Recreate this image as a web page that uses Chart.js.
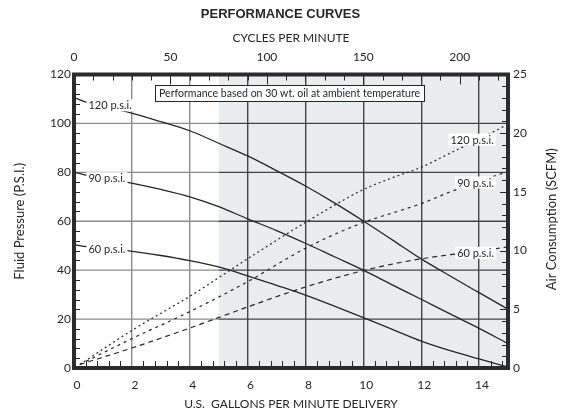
<!DOCTYPE html>
<html>
<head>
<meta charset="utf-8">
<script src="https://cdn.jsdelivr.net/npm/chart.js@4.4.0/dist/chart.umd.min.js"></script>
<style>
  html, body { margin: 0; padding: 0; background: #fff; }
  #wrap { width: 561px; height: 413px; }
</style>
</head>
<body>
<div id="wrap"><canvas id="chart"></canvas></div>
<script>
/* performance curves: fluid pressure (solid) and air consumption (dashed) */

// fluid pressure curves, first two points are the label leader
var gpmFluid = [0.05, 0.45, 1.9, 3, 4, 5, 6, 7, 8, 9, 10, 11, 12, 13, 14, 14.95];
var psi120   = [110.3, 108.6, 104.5, 100.7, 97.0, 91.9, 86.7, 80.7, 74.4, 67.5, 60.1, 52.4, 44.6, 37.6, 30.8, 24.4];
var psi90    = [80.0, 78.8, 75.8, 73.0, 70.0, 66.0, 61.0, 56.2, 51.0, 45.5, 40.0, 34.0, 28.1, 22.1, 16.2, 10.3];
var psi60    = [50.3, 49.6, 47.9, 46.0, 43.9, 41.3, 37.7, 33.8, 29.8, 25.3, 20.6, 15.8, 11.0, 7.1, 3.7, 0.6];

// air consumption curves
var gpmAir  = [0.2, 2, 4, 6, 8, 10, 11, 12, 13, 14, 14.95];
var scfm120 = [0.3, 3.2, 6.1, 9.3, 12.4, 15.2, 16.2, 17.1, 18.3, 19.5, 20.7];
var scfm90  = [0.3, 2.5, 4.8, 7.35, 10.2, 12.4, 13.2, 14.0, 15.0, 15.9, 16.7];
var scfm60  = [0.3, 1.7, 3.4, 5.2, 6.9, 8.3, 8.85, 9.3, 9.65, 9.95, 10.3];

// axis ticks
var gpmTicks   = [0, 2, 4, 6, 8, 10, 12, 14];
var cycleTicks = [0, 50, 100, 150, 200];
var psiTicks   = [0, 20, 40, 60, 80, 100, 120];
var scfmTicks  = [0, 5, 10, 15, 20, 25];

var curveNames = ['120 p.s.i.', '90 p.s.i.', '60 p.s.i.'];
var noteText   = 'Performance based on 30 wt. oil at ambient temperature';

var INK   = '#262626';
var SHADE = '#e9edf0';
var GRID_LIGHT = '#8c8c8c';
var GRID_DARK  = '#444444';
var FONT  = "Lato, 'Open Sans', sans-serif";
var SHADE_FROM = 5;

function pts(xs, ys) {
  return xs.map(function(x, i) { return { x: x, y: ys[i] }; });
}

function fixTicks(list) {
  return function(s) { s.ticks = list.map(function(v) { return { value: v }; }); };
}

// label placement (annotation positions, in axis units)
var labelSpots = [
  { text: curveNames[0], x: 0.5,   y: 107.4, axis: 'y',  align: 'left' },
  { text: curveNames[1], x: 0.5,   y: 77.6,  axis: 'y',  align: 'left' },
  { text: curveNames[2], x: 0.5,   y: 48.5,  axis: 'y',  align: 'left' },
  { text: curveNames[0], x: 13.76, y: 19.45, axis: 'y2', align: 'center' },
  { text: curveNames[1], x: 13.88, y: 15.8,  axis: 'y2', align: 'center' },
  { text: curveNames[2], x: 13.88, y: 9.81,  axis: 'y2', align: 'center' }
];
var noteBox = { x0: 2.8, x1: 12.1, y0: 109.2, y1: 115.7 };

var decorPlugin = {
  id: 'decor',
  beforeDraw: function(chart) {
    var ctx = chart.ctx, a = chart.chartArea, sx = chart.scales.x;
    var x5 = sx.getPixelForValue(SHADE_FROM);
    ctx.save();
    ctx.fillStyle = SHADE;
    ctx.fillRect(x5, a.top, a.right - x5, a.bottom - a.top);
    ctx.restore();
  },
  beforeDatasetsDraw: function(chart) {
    // horizontal grid: light over white, dark over the shaded zone
    var ctx = chart.ctx, a = chart.chartArea, sx = chart.scales.x, sy = chart.scales.y;
    var x5 = sx.getPixelForValue(SHADE_FROM);
    ctx.save();
    ctx.lineWidth = 1.4;
    psiTicks.forEach(function(v) {
      if (v === 0 || v === 120) return;
      var py = sy.getPixelForValue(v);
      ctx.strokeStyle = GRID_LIGHT;
      ctx.beginPath(); ctx.moveTo(a.left, py); ctx.lineTo(x5, py); ctx.stroke();
      ctx.strokeStyle = GRID_DARK;
      ctx.beginPath(); ctx.moveTo(x5, py); ctx.lineTo(a.right, py); ctx.stroke();
    });
    ctx.restore();
  },
  afterDatasetsDraw: function(chart) {
    var ctx = chart.ctx, sx = chart.scales.x;
    ctx.save();
    ctx.font = '11px ' + FONT;
    ctx.textBaseline = 'middle';
    labelSpots.forEach(function(l) {
      var sc = chart.scales[l.axis];
      var px = sx.getPixelForValue(l.x), py = sc.getPixelForValue(l.y);
      var w = ctx.measureText(l.text).width;
      var left = l.align === 'left' ? px : px - w / 2;
      ctx.fillStyle = '#fff';
      ctx.fillRect(left - 2, py - 6, w + 4, 12);
      ctx.fillStyle = INK;
      ctx.textAlign = 'left';
      ctx.fillText(l.text, left, py + 0.5);
    });
    // note box
    var sy = chart.scales.y;
    var bx0 = sx.getPixelForValue(noteBox.x0), bx1 = sx.getPixelForValue(noteBox.x1);
    var by0 = sy.getPixelForValue(noteBox.y1), by1 = sy.getPixelForValue(noteBox.y0);
    ctx.fillStyle = '#fff';
    ctx.fillRect(bx0, by0, bx1 - bx0, by1 - by0);
    ctx.strokeStyle = INK;
    ctx.lineWidth = 1;
    ctx.strokeRect(Math.round(bx0) + 0.5, Math.round(by0) + 0.5, Math.round(bx1 - bx0), Math.round(by1 - by0));
    ctx.fillStyle = INK;
    ctx.font = '11.5px ' + FONT;
    ctx.textAlign = 'center';
    ctx.fillText(noteText, (bx0 + bx1) / 2, (by0 + by1) / 2 + 0.5, bx1 - bx0 - 8);
    ctx.restore();
  },
  afterDraw: function(chart) {
    var ctx = chart.ctx, a = chart.chartArea;
    var sx = chart.scales.x, sx2 = chart.scales.x2, sy = chart.scales.y, sy2 = chart.scales.y2;
    var i, p, len;
    ctx.save();
    ctx.strokeStyle = INK;
    ctx.lineWidth = 1;
    ctx.beginPath();
    // bottom minor ticks every 0.4 gpm
    for (i = 1; i * 0.4 < 15; i++) {
      if (i % 5 === 0) continue;
      p = Math.round(sx.getPixelForValue(i * 0.4)) + 0.5;
      ctx.moveTo(p, a.bottom); ctx.lineTo(p, a.bottom - 7);
    }
    // top ticks every 10 cycles
    for (i = 10; i < 225; i += 10) {
      p = Math.round(sx2.getPixelForValue(i)) + 0.5;
      len = i % 50 === 0 ? 10 : 6;
      ctx.moveTo(p, a.top); ctx.lineTo(p, a.top + len);
    }
    // left ticks every 4 psi
    for (i = 4; i < 120; i += 4) {
      if (i % 20 === 0) continue;
      p = Math.round(sy.getPixelForValue(i)) + 0.5;
      ctx.moveTo(a.left, p); ctx.lineTo(a.left + 6, p);
    }
    // right ticks every 1 scfm
    for (i = 1; i < 25; i++) {
      p = Math.round(sy2.getPixelForValue(i)) + 0.5;
      len = i % 5 === 0 ? 8 : 6;
      ctx.moveTo(a.right, p); ctx.lineTo(a.right - len, p);
    }
    ctx.stroke();
    // frame
    ctx.strokeStyle = '#2b2b2b';
    ctx.lineWidth = 4;
    ctx.strokeRect(a.left, a.top, a.right - a.left, a.bottom - a.top);
    // right axis title (reads bottom to top)
    ctx.translate(sy2.right - 9.5, (a.top + a.bottom) / 2 - 2);
    ctx.rotate(-Math.PI / 2);
    ctx.fillStyle = INK;
    ctx.font = '13px ' + FONT;
    ctx.textAlign = 'center';
    ctx.textBaseline = 'middle';
    ctx.fillText('Air Consumption (SCFM)', 0, 0);
    ctx.restore();
  }
};

var solid = { borderColor: INK, borderWidth: 1.3, pointRadius: 0, fill: false,
              cubicInterpolationMode: 'monotone', xAxisID: 'x', yAxisID: 'y' };

function solidSet(label, ys) {
  return Object.assign({ label: label, data: pts(gpmFluid, ys) }, solid);
}
function airSet(label, ys, dash) {
  return Object.assign({ label: label + ' air', data: pts(gpmAir, ys), borderDash: dash }, solid,
                       { yAxisID: 'y2', borderWidth: 1.2 });
}

var tickFont = { family: FONT, size: 12 };

new Chart(document.getElementById('chart'), {
  type: 'line',
  data: {
    datasets: [
      solidSet(curveNames[0], psi120),
      solidSet(curveNames[1], psi90),
      solidSet(curveNames[2], psi60),
      airSet(curveNames[0], scfm120, [2, 3]),
      airSet(curveNames[1], scfm90, [3, 4]),
      airSet(curveNames[2], scfm60, [5, 4])
    ]
  },
  options: {
    responsive: true,
    maintainAspectRatio: false,
    animation: false,
    devicePixelRatio: 1,
    layout: { padding: 0 },
    plugins: {
      legend: { display: false },
      tooltip: { enabled: false },
      title: {
        display: true,
        text: 'PERFORMANCE CURVES',
        color: INK,
        font: { family: "'Liberation Sans', Arial, sans-serif", size: 13, weight: 'bold' },
        padding: { top: 7, bottom: 0 }
      }
    },
    scales: {
      x: {
        type: 'linear', position: 'bottom', min: 0, max: 15,
        afterBuildTicks: fixTicks(gpmTicks),
        afterFit: function(s) { s.height = 45; },
        border: { display: false },
        grid: {
          drawTicks: false, lineWidth: 1.4,
          color: function(c) {
            var v = c.tick.value;
            if (v === 0 || v >= 15) return 'rgba(0,0,0,0)';
            return v < SHADE_FROM ? GRID_LIGHT : GRID_DARK;
          }
        },
        ticks: { padding: 9.8, color: INK, font: tickFont, labelOffset: 3 },
        title: { display: true, text: 'U.S.  GALLONS PER MINUTE DELIVERY', color: INK,
                 font: { family: FONT, size: 12 }, padding: { top: 0, bottom: 2 } }
      },
      x2: {
        type: 'linear', position: 'top', min: 0, max: 225,
        afterBuildTicks: fixTicks(cycleTicks),
        afterFit: function(s) { s.height = 51.9; },
        border: { display: false },
        grid: { drawOnChartArea: false, drawTicks: false },
        ticks: { padding: 10.3, color: INK, font: tickFont },
        title: { display: true, text: 'CYCLES PER MINUTE', color: INK,
                 font: { family: FONT, size: 12 }, padding: { top: 8.5, bottom: 0 } }
      },
      y: {
        type: 'linear', position: 'left', min: 0, max: 120,
        afterBuildTicks: fixTicks(psiTicks),
        afterFit: function(s) { s.width = 74; },
        border: { display: false },
        grid: { display: false, drawTicks: false },
        ticks: { padding: 3, color: INK, font: tickFont },
        title: { display: true, text: 'Fluid Pressure (P.S.I.)', color: INK,
                 font: { family: FONT, size: 13 }, padding: { top: 12, bottom: 0 } }
      },
      y2: {
        type: 'linear', position: 'right', min: 0, max: 25,
        afterBuildTicks: fixTicks(scfmTicks),
        afterFit: function(s) { s.width = 53; },
        border: { display: false },
        grid: { drawOnChartArea: false, drawTicks: false },
        ticks: { padding: 5, color: INK, font: tickFont }
      }
    }
  },
  plugins: [decorPlugin]
});
</script>
</body>
</html>
